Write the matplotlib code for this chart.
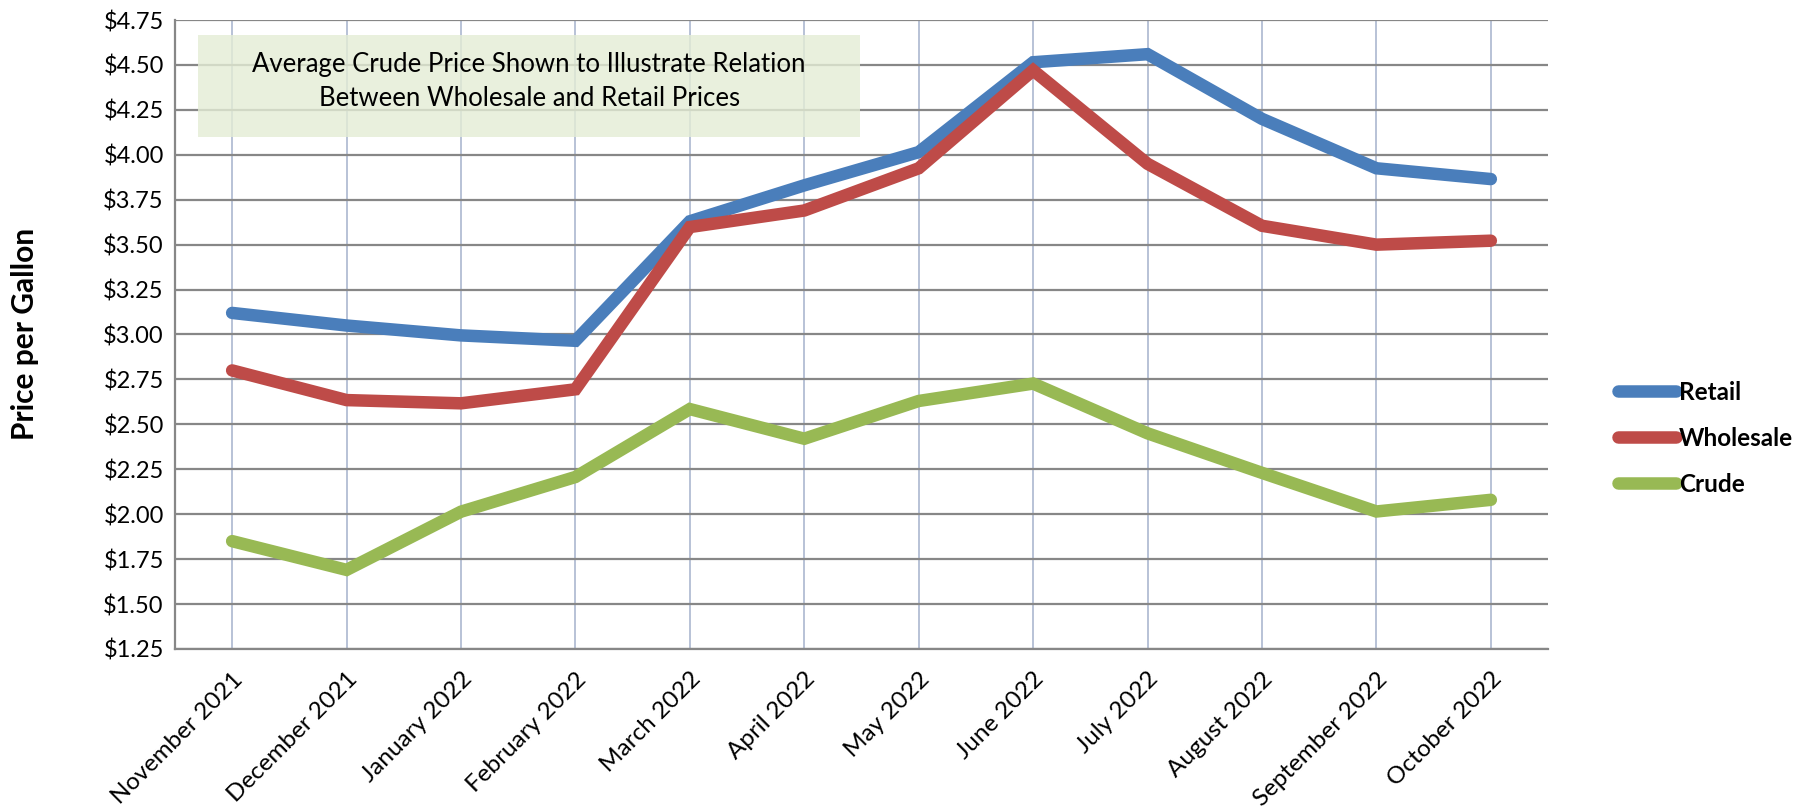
import matplotlib
matplotlib.use("Agg")
import matplotlib.pyplot as plt
from matplotlib.patches import Rectangle

plt.rcParams['font.family'] = ['Lato', 'DejaVu Sans']

months = ["November 2021", "December 2021", "January 2022", "February 2022",
          "March 2022", "April 2022", "May 2022", "June 2022", "July 2022",
          "August 2022", "September 2022", "October 2022"]
retail = [3.12, 3.05, 2.995, 2.965, 3.63, 3.83, 4.015, 4.515, 4.56, 4.20, 3.925, 3.865]
wholesale = [2.80, 2.635, 2.617, 2.695, 3.598, 3.69, 3.925, 4.47, 3.95, 3.605, 3.50, 3.522]
crude = [1.85, 1.69, 2.014, 2.207, 2.585, 2.42, 2.63, 2.727, 2.45, 2.23, 2.015, 2.08]
y_ticks = [1.25 + 0.25 * i for i in range(15)]

series = [("Retail", retail, "#4a7ebb"),
          ("Wholesale", wholesale, "#be4b48"),
          ("Crude", crude, "#98b954")]

fig = plt.figure(figsize=(18.07, 8.11), dpi=100)
ax = fig.add_axes([0.0968, 0.1998, 0.7599, 0.7755])

x = list(range(len(months)))
for name, vals, col in series:
    ax.plot(x, vals, color=col, lw=9, solid_capstyle='round',
            solid_joinstyle='miter', label=name, zorder=3)

ax.set_xlim(-0.5, len(months) - 0.5)
ax.set_ylim(1.25, 4.75)
ax.set_yticks(y_ticks)
ax.set_yticklabels(["${:.2f}".format(v) for v in y_ticks], fontsize=17)
ax.set_xticks(x)
ax.set_xticklabels(months, rotation=45, ha='right', rotation_mode='anchor', fontsize=17.5)
ax.tick_params(length=0, pad=8)
ax.tick_params(axis='x', pad=14)

ax.yaxis.grid(True, color='#878787', lw=1.6)
ax.xaxis.grid(True, color='#b8c2d6', lw=1.4)
ax.set_axisbelow(True)
for s in ['top', 'right']:
    ax.spines[s].set_visible(False)
for s in ['left', 'bottom']:
    ax.spines[s].set_color('#878787')
    ax.spines[s].set_linewidth(1.6)

fig.text(25 / 1807, 1 - 334 / 811, "Price per Gallon", rotation=90, ha='center', va='center',
         fontsize=21.5, fontweight='bold')

# note box
ax.add_patch(Rectangle((0.0168, 0.814), 0.482, 0.162, transform=ax.transAxes,
                       facecolor='#e4edd5', alpha=0.8, edgecolor='none', zorder=2))
ax.text(0.258, 0.903, "Average Crude Price Shown to Illustrate Relation\nBetween Wholesale and Retail Prices",
        transform=ax.transAxes, ha='center', va='center', fontsize=18.5,
        linespacing=1.45, zorder=4)

leg = ax.legend(loc='center left', bbox_to_anchor=(1.035, 0.335), frameon=False,
                prop={'size': 17.5, 'weight': 'bold'}, handlelength=2.4,
                handletextpad=0.1, labelspacing=0.95)

fig.savefig("out.png", dpi=100)
